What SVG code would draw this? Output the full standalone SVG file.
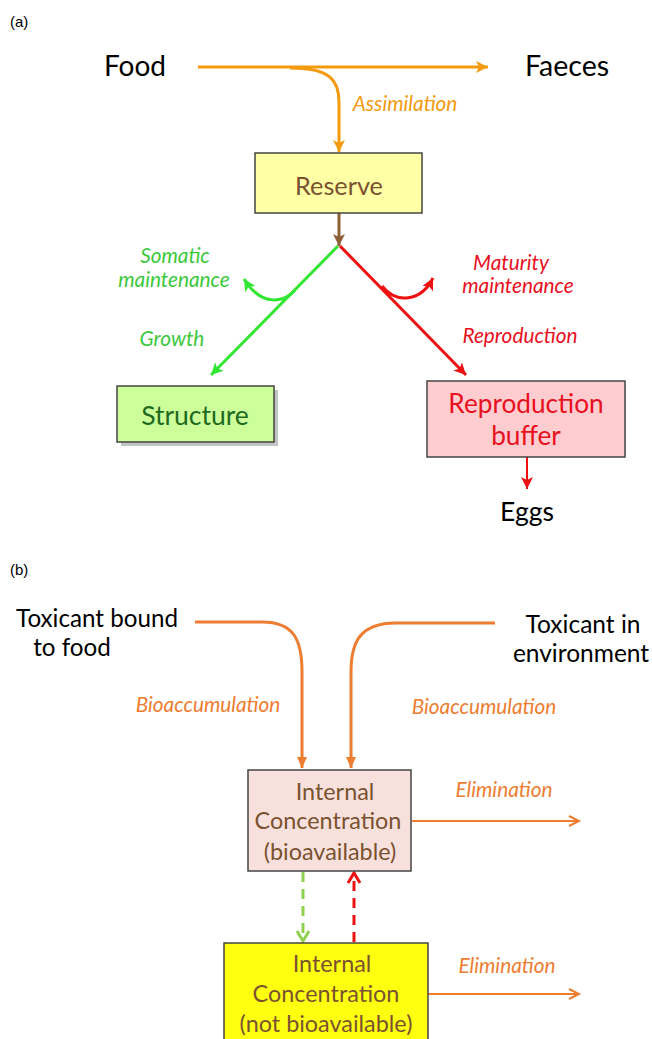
<svg xmlns="http://www.w3.org/2000/svg" width="652" height="1039" viewBox="0 0 652 1039">
<style>
text{font-family:Lato,"Open Sans","Liberation Sans",sans-serif}
.lbl{fill:#000}
.it{font-style:italic;font-size:20.8px}
.box{stroke:#444;stroke-width:1.5}
.oa{fill:#f39a0e}
.ob{fill:#ed7d31}
.g{fill:#3cc83c}
.r{fill:#e8101e}
.br{fill:#7a5230}
</style>
<defs>
<marker id="mA" markerUnits="userSpaceOnUse" markerWidth="14" markerHeight="14" refX="12" refY="6" orient="auto"><path d="M0,0 L12,6 L0,12 L3,6 Z" fill="#f39a0e"/></marker>
<marker id="mBr" markerUnits="userSpaceOnUse" markerWidth="14" markerHeight="14" refX="12" refY="6" orient="auto"><path d="M0,0 L12,6 L0,12 L3,6 Z" fill="#8b5e34"/></marker>
<marker id="mG" markerUnits="userSpaceOnUse" markerWidth="14" markerHeight="14" refX="12" refY="6" orient="auto"><path d="M0,0 L12,6 L0,12 L3,6 Z" fill="#33e633"/></marker>
<marker id="mR" markerUnits="userSpaceOnUse" markerWidth="14" markerHeight="14" refX="12" refY="6" orient="auto"><path d="M0,0 L12,6 L0,12 L3,6 Z" fill="#ee1111"/></marker>
<marker id="mO" markerUnits="userSpaceOnUse" markerWidth="14" markerHeight="14" refX="11" refY="5" orient="auto"><path d="M0,0 L11,5 L0,10 Z" fill="#ed7d31"/></marker>
<marker id="mOo" markerUnits="userSpaceOnUse" markerWidth="14" markerHeight="14" refX="11" refY="6" orient="auto"><path d="M1,1 L11,6 L1,11" fill="none" stroke="#ed7d31" stroke-width="2"/></marker>
<marker id="mGo" markerUnits="userSpaceOnUse" markerWidth="16" markerHeight="16" refX="11" refY="7" orient="auto"><path d="M1,1 L11,7 L1,13" fill="none" stroke="#8fd14f" stroke-width="3"/></marker>
<marker id="mRo" markerUnits="userSpaceOnUse" markerWidth="16" markerHeight="16" refX="11" refY="7" orient="auto"><path d="M1,1 L11,7 L1,13" fill="none" stroke="#ee1111" stroke-width="3"/></marker>
</defs>

<text x="10" y="27" style="font-family:'Liberation Sans',sans-serif;font-size:15px">(a)</text>
<text x="10" y="575" style="font-family:'Liberation Sans',sans-serif;font-size:15px">(b)</text>

<g id="connectors" fill="none">
<line x1="198" y1="67" x2="488" y2="67" stroke="#f39a0e" stroke-width="3" marker-end="url(#mA)"/>
<path d="M290,68 C330,68 339,80 339,102 L339,152" stroke="#f39a0e" stroke-width="3" marker-end="url(#mA)"/>
<line x1="339" y1="213" x2="339" y2="246" stroke="#8b5e34" stroke-width="3" marker-end="url(#mBr)"/>
<line x1="338" y1="246" x2="211" y2="375" stroke="#33e633" stroke-width="3" marker-end="url(#mG)"/>
<path d="M295,290 C285,302 262,308 244,279" stroke="#33e633" stroke-width="3" marker-end="url(#mG)"/>
<line x1="340" y1="246" x2="466" y2="375" stroke="#ee1111" stroke-width="3" marker-end="url(#mR)"/>
<path d="M382,286 C396,304 421,302 433,278" stroke="#ee1111" stroke-width="3" marker-end="url(#mR)"/>
<line x1="527" y1="457" x2="527" y2="489" stroke="#ee1111" stroke-width="2" marker-end="url(#mR)"/>

<path d="M195,622 L262,622 C294,622 302,640 302,672 L302,768" stroke="#ed7d31" stroke-width="3" marker-end="url(#mO)"/>
<path d="M495,623 L396,623 C360,623 351,642 351,672 L351,768" stroke="#ed7d31" stroke-width="3" marker-end="url(#mO)"/>
<line x1="412" y1="821" x2="579" y2="821" stroke="#ed7d31" stroke-width="2" marker-end="url(#mOo)"/>
<line x1="428" y1="994" x2="579" y2="994" stroke="#ed7d31" stroke-width="2" marker-end="url(#mOo)"/>
<line x1="303" y1="872" x2="303" y2="941" stroke="#8fd14f" stroke-width="3" stroke-dasharray="10,7" marker-end="url(#mGo)"/>
<line x1="354" y1="942" x2="354" y2="873" stroke="#ee1111" stroke-width="3" stroke-dasharray="10,7" marker-end="url(#mRo)"/>
</g>

<g id="food"><text class="lbl" x="135" y="76" text-anchor="middle" font-size="28">Food</text></g>
<g id="faeces"><text class="lbl" x="567" y="76" text-anchor="middle" font-size="28.5">Faeces</text></g>
<text class="it oa" x="405" y="111" text-anchor="middle">Assimilation</text>

<g id="reserve">
<rect class="box" x="255" y="153" width="167" height="60" fill="#ffffa6"/>
<text x="339" y="195" text-anchor="middle" font-size="25.3" class="br">Reserve</text>
</g>

<text class="it g" x="175" y="263" text-anchor="middle">Somatic</text>
<text class="it g" x="174" y="287" text-anchor="middle">maintenance</text>
<text class="it g" x="172" y="346" text-anchor="middle">Growth</text>
<text class="it r" x="511" y="270" text-anchor="middle">Maturity</text>
<text class="it r" x="518" y="293" text-anchor="middle">maintenance</text>
<text class="it r" x="520" y="343" text-anchor="middle">Reproduction</text>

<g id="structure">
<rect x="121" y="390" width="157" height="56" fill="#888" opacity="0.5"/>
<rect class="box" x="117" y="386" width="157" height="56" fill="#ccff99"/>
<text x="195" y="425" text-anchor="middle" font-size="26.5" fill="#1f6a1f">Structure</text>
</g>

<g id="reproduction-buffer">
<rect class="box" x="427" y="381" width="198" height="76" fill="#ffccd0"/>
<text x="526" y="413" text-anchor="middle" font-size="26.2" fill="#e8101e">Reproduction</text>
<text x="526" y="445" text-anchor="middle" font-size="26.2" fill="#e8101e">buffer</text>
</g>

<g id="eggs"><text class="lbl" x="527" y="521" text-anchor="middle" font-size="26.5">Eggs</text></g>

<g id="toxicant-food">
<text class="lbl" x="97" y="627" text-anchor="middle" font-size="24.2">Toxicant bound</text>
<text class="lbl" x="72" y="656" text-anchor="middle" font-size="24.2">to food</text>
</g>
<g id="toxicant-env">
<text class="lbl" x="583" y="633" text-anchor="middle" font-size="24.5">Toxicant in</text>
<text class="lbl" x="581" y="662" text-anchor="middle" font-size="24.5">environment</text>
</g>
<text class="it ob" x="208" y="712" text-anchor="middle">Bioaccumulation</text>
<text class="it ob" x="484" y="714" text-anchor="middle">Bioaccumulation</text>

<g id="internal-bio">
<rect class="box" x="248" y="770" width="163" height="101" fill="#f8e1dc"/>
<text x="335" y="800" text-anchor="middle" font-size="23.4" class="br">Internal</text>
<text x="328" y="829" text-anchor="middle" font-size="23.4" class="br">Concentration</text>
<text x="330" y="860" text-anchor="middle" font-size="23.4" class="br">(bioavailable)</text>
</g>
<text class="it ob" x="504" y="797" text-anchor="middle">Elimination</text>

<g id="internal-notbio">
<rect class="box" x="224" y="943" width="204" height="110" fill="#ffff10"/>
<text x="332" y="972" text-anchor="middle" font-size="23.4" class="br">Internal</text>
<text x="326" y="1002" text-anchor="middle" font-size="23.4" class="br">Concentration</text>
<text x="326" y="1032" text-anchor="middle" font-size="23.4" class="br">(not bioavailable)</text>
</g>
<text class="it ob" x="507" y="973" text-anchor="middle">Elimination</text>
</svg>
